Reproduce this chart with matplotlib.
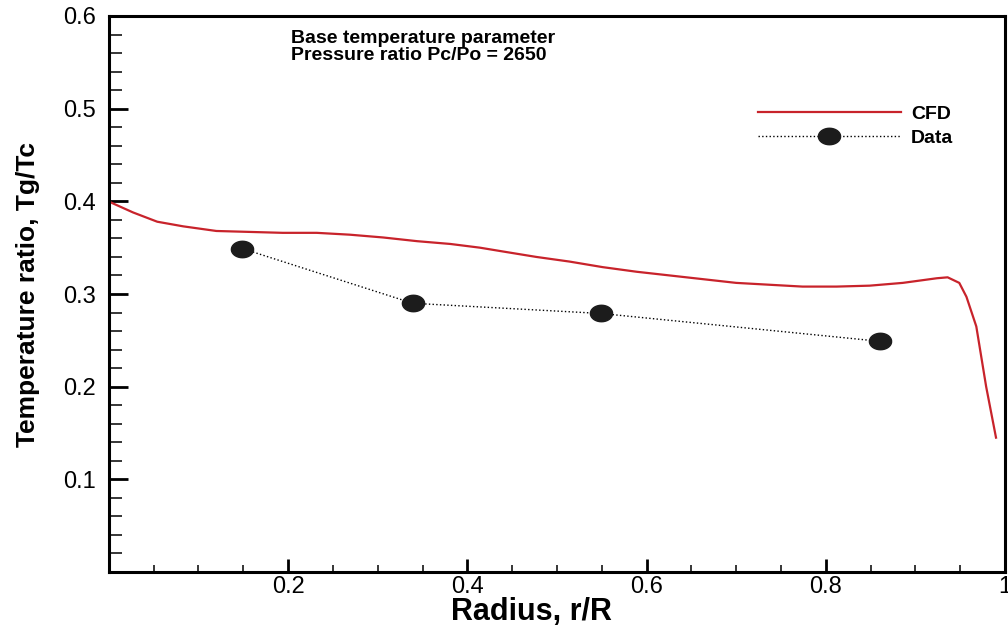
import numpy as np
import matplotlib
matplotlib.use('Agg')
import matplotlib.pyplot as plt
from matplotlib.path import Path
from matplotlib.ticker import MultipleLocator

plt.rcParams['font.family'] = ['Liberation Sans', 'DejaVu Sans']

# CFD curve
cfd_r = [0.0, 0.004, 0.027, 0.054, 0.083, 0.120, 0.157, 0.194, 0.232, 0.269,
         0.306, 0.344, 0.381, 0.414, 0.439, 0.477, 0.514, 0.551, 0.589, 0.626,
         0.663, 0.700, 0.737, 0.774, 0.812, 0.849, 0.886, 0.924, 0.936, 0.949,
         0.957, 0.968, 0.979, 0.990]
cfd_t = [0.400, 0.398, 0.388, 0.378, 0.373, 0.368, 0.367, 0.366, 0.366, 0.364,
         0.361, 0.357, 0.354, 0.350, 0.346, 0.340, 0.335, 0.329, 0.324, 0.320,
         0.316, 0.312, 0.310, 0.308, 0.308, 0.309, 0.312, 0.317, 0.318, 0.312,
         0.297, 0.265, 0.200, 0.145]

# measured data
data_r = [0.149, 0.339, 0.549, 0.860]
data_t = [0.349, 0.290, 0.279, 0.249]

xticks = [0.2, 0.4, 0.6, 0.8, 1.0]
xticklabels = ['0.2', '0.4', '0.6', '0.8', '1']
yticks = [0.1, 0.2, 0.3, 0.4, 0.5, 0.6]
yticklabels = ['0.1', '0.2', '0.3', '0.4', '0.5', '0.6']

# slightly flattened round marker
th = np.linspace(0, 2 * np.pi, 41)
blob = Path(np.column_stack([1.35 * np.cos(th), np.sin(th)]))

fig = plt.figure(figsize=(10.08, 6.27), dpi=100)
ax = fig.add_axes([0.108, 0.0877, 0.889, 0.8868])

ax.plot(cfd_r, cfd_t, color='#c8232b', lw=1.6, label='CFD')
ax.plot(data_r, data_t, color='black', lw=1.0, ls=':', marker=blob,
        markersize=16, markerfacecolor='#1c1c1c', markeredgecolor='#1c1c1c',
        label='Data')

ax.set_xlim(0, 1)
ax.set_ylim(0, 0.6)
ax.set_xticks(xticks)
ax.set_xticklabels(xticklabels)
ax.set_yticks(yticks)
ax.set_yticklabels(yticklabels)
ax.xaxis.set_minor_locator(MultipleLocator(0.05))
ax.yaxis.set_minor_locator(MultipleLocator(0.02))

for s in ['top', 'left', 'bottom', 'right']:
    ax.spines[s].set_linewidth(2.2)

ax.tick_params(axis='x', which='major', direction='in', length=9.5, width=2,
               labelsize=17, pad=3, top=False)
ax.tick_params(axis='x', which='minor', direction='in', length=5, width=1.1, top=False)
ax.tick_params(axis='y', which='major', direction='in', length=14, width=2,
               labelsize=17, pad=9, right=False)
ax.tick_params(axis='y', which='minor', direction='in', length=9, width=1.1, right=False)

ax.set_xlabel('Radius, r/R', fontsize=22, fontweight='bold')
ax.xaxis.set_label_coords(0.472, -0.045)
ax.set_ylabel('Temperature ratio, Tg/Tc', fontsize=19, fontweight='bold')
ax.yaxis.set_label_coords(-0.077, 0.5)

ax.text(0.203, 0.975, 'Base temperature parameter\nPressure ratio Pc/Po = 2650',
        transform=ax.transAxes, fontsize=14, fontweight='bold', va='top',
        ha='left', linespacing=1.0)

ax.legend(loc='upper left', bbox_to_anchor=(0.713, 0.857), frameon=False,
          prop={'size': 14, 'weight': 'bold'}, handlelength=7.4,
          handletextpad=0.5, labelspacing=0.35, borderpad=0, numpoints=1)

fig.savefig('out.png', dpi=100)
